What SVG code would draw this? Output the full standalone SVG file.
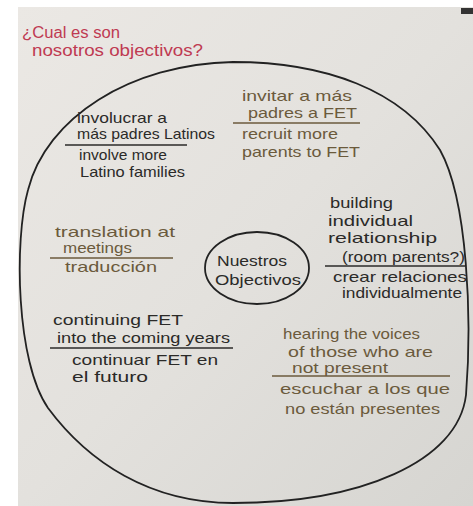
<svg xmlns="http://www.w3.org/2000/svg" width="473" height="506" viewBox="0 0 473 506">
<defs>
<linearGradient id="paper" x1="0" y1="0" x2="1" y2="1">
<stop offset="0" stop-color="#ebe8e4"/>
<stop offset="0.5" stop-color="#e3e1dd"/>
<stop offset="1" stop-color="#d6d5d1"/>
</linearGradient>
<style>
text{font-family:"Liberation Sans","DejaVu Sans",sans-serif;font-size:15px}
.blk{fill:#2b2a28}
.brn{fill:#6b5a3c}
.red{fill:#bf3a52;font-size:16px}
.lb{stroke:#2b2a28;stroke-width:1.6;fill:none}
.ln{stroke:#6b5a3c;stroke-width:1.6;fill:none}
.ring{stroke:#222;stroke-width:1.8;fill:none}
</style>
</defs>
<rect width="473" height="506" fill="#ffffff"/>
<rect x="18" y="7" width="455" height="499" fill="url(#paper)"/>
<rect x="461" y="8" width="12" height="6" fill="#333"/>

<g id="title">
<text class="red" x="22" y="38" textLength="98" lengthAdjust="spacingAndGlyphs">¿Cual es son</text>
<text class="red" x="32" y="56" textLength="171" lengthAdjust="spacingAndGlyphs">nosotros objectivos?</text>
</g>

<g id="outer-circle">
<path class="ring" d="M 233,62 C 325,62 402,90 440,150 C 468,200 472,320 466,395 C 458,462 360,503 233,503 C 150,503 88,462 48,408 C 16,362 14,240 28,190 C 46,118 130,64 233,62 Z"/>
</g>

<g id="center">
<ellipse class="ring" cx="257" cy="268" rx="52" ry="36"/>
<text class="blk" x="217" y="266" textLength="70" lengthAdjust="spacingAndGlyphs">Nuestros</text>
<text class="blk" x="215" y="285" textLength="86" lengthAdjust="spacingAndGlyphs">Objectivos</text>
</g>

<g id="goal-involucrar">
<text class="blk" x="77" y="123" textLength="90" lengthAdjust="spacingAndGlyphs">involucrar a</text>
<text class="blk" x="77" y="139" textLength="138" lengthAdjust="spacingAndGlyphs">más padres Latinos</text>
<line class="lb" x1="65" y1="145" x2="187" y2="145"/>
<text class="blk" x="79" y="160" textLength="88" lengthAdjust="spacingAndGlyphs">involve more</text>
<text class="blk" x="80" y="177" textLength="105" lengthAdjust="spacingAndGlyphs">Latino families</text>
</g>

<g id="goal-invitar">
<text class="brn" x="242" y="101" textLength="110" lengthAdjust="spacingAndGlyphs">invitar a más</text>
<text class="brn" x="248" y="118" textLength="109" lengthAdjust="spacingAndGlyphs">padres a FET</text>
<line class="ln" x1="233" y1="123" x2="360" y2="123"/>
<text class="brn" x="242" y="139" textLength="96" lengthAdjust="spacingAndGlyphs">recruit more</text>
<text class="brn" x="242" y="157" textLength="118" lengthAdjust="spacingAndGlyphs">parents to FET</text>
</g>

<g id="goal-translation">
<text class="brn" x="55" y="237" textLength="120" lengthAdjust="spacingAndGlyphs">translation at</text>
<text class="brn" x="63" y="253" textLength="69" lengthAdjust="spacingAndGlyphs">meetings</text>
<line class="ln" x1="50" y1="258" x2="173" y2="258"/>
<text class="brn" x="65" y="272" textLength="92" lengthAdjust="spacingAndGlyphs">traducción</text>
</g>

<g id="goal-building">
<text class="blk" x="330" y="208" textLength="63" lengthAdjust="spacingAndGlyphs">building</text>
<text class="blk" x="328" y="226" textLength="85" lengthAdjust="spacingAndGlyphs">individual</text>
<text class="blk" x="328" y="243" textLength="109" lengthAdjust="spacingAndGlyphs">relationship</text>
<text class="blk" x="342" y="262" textLength="123" lengthAdjust="spacingAndGlyphs">(room parents?)</text>
<line class="lb" x1="325" y1="266" x2="465" y2="266"/>
<text class="blk" x="333" y="282" textLength="134" lengthAdjust="spacingAndGlyphs">crear relaciones</text>
<text class="blk" x="342" y="298" textLength="120" lengthAdjust="spacingAndGlyphs">individualmente</text>
</g>

<g id="goal-continuing">
<text class="blk" x="53" y="325" textLength="130" lengthAdjust="spacingAndGlyphs">continuing FET</text>
<text class="blk" x="57" y="343" textLength="173" lengthAdjust="spacingAndGlyphs">into the coming years</text>
<line class="lb" x1="50" y1="348" x2="233" y2="348"/>
<text class="blk" x="72" y="365" textLength="146" lengthAdjust="spacingAndGlyphs">continuar FET en</text>
<text class="blk" x="72" y="382" textLength="76" lengthAdjust="spacingAndGlyphs">el futuro</text>
</g>

<g id="goal-hearing">
<text class="brn" x="283" y="339" textLength="137" lengthAdjust="spacingAndGlyphs">hearing the voices</text>
<text class="brn" x="288" y="357" textLength="145" lengthAdjust="spacingAndGlyphs">of those who are</text>
<text class="brn" x="292" y="373" textLength="96" lengthAdjust="spacingAndGlyphs">not present</text>
<line class="ln" x1="272" y1="376" x2="450" y2="376"/>
<text class="brn" x="280" y="394" textLength="170" lengthAdjust="spacingAndGlyphs">escuchar a los que</text>
<text class="brn" x="285" y="414" textLength="155" lengthAdjust="spacingAndGlyphs">no están presentes</text>
</g>
</svg>
